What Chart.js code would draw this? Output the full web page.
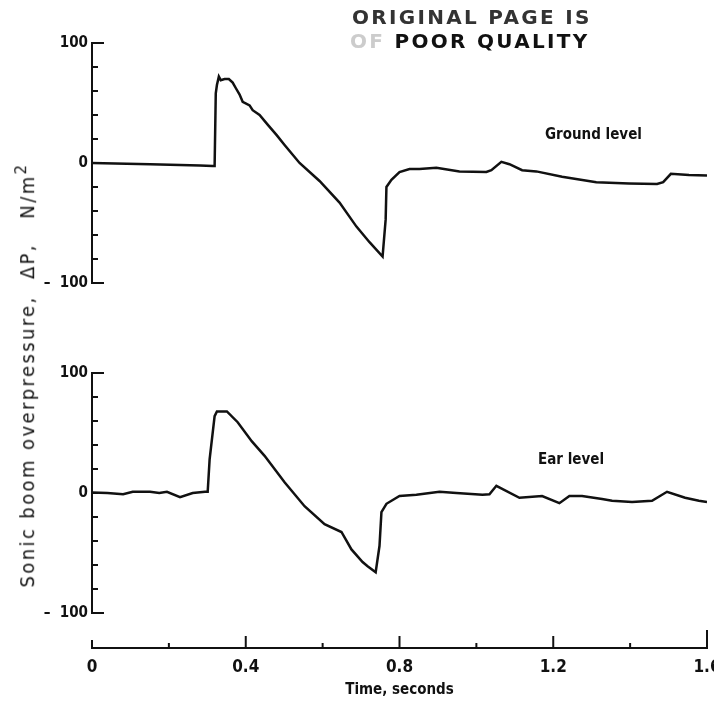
<!DOCTYPE html>
<html lang="en">
<head>
  <meta charset="UTF-8">
  <title>Sonic boom overpressure</title>
  <script src="https://cdn.jsdelivr.net/npm/chart.js"></script>
  <style>
    body {
      margin: 0;
      background: #fff;
    }

    .wrap {
      position: relative;
      width: 714px;
      height: 708px;
    }

    .note {
      position: absolute;
      font-family: 'DejaVu Sans Condensed', 'Liberation Sans Narrow', 'DejaVu Sans', sans-serif;
      font-weight: bold;
      font-size: 15px;
      color: #111;
      white-space: nowrap;
    }

    .stamp {
      position: absolute;
      font-family: 'DejaVu Sans', sans-serif;
      font-weight: bold;
      font-size: 20px;
      letter-spacing: 2.3px;
      color: #111;
      white-space: nowrap;
    }

    /* rotated y title, centred on the two panels */
    .ytitle {
      position: absolute;
      left: 25px;
      top: 375px;
      transform: translate(-50%, -50%) rotate(-90deg);
      font-family: 'DejaVu Sans Condensed', 'Liberation Sans Narrow', 'DejaVu Sans', sans-serif;
      font-size: 20px;
      letter-spacing: 2.4px;
      color: #111;
      white-space: pre;
    }
  </style>
</head>
<body>

  <div class="wrap">
    <canvas id="chart" width="714" height="708"></canvas>
    <div class="stamp" style="left:352px; top:5px; color:#333;">ORIGINAL PAGE IS</div>
    <div class="stamp" style="left:350px; top:29px;"><span style="color:#ccc;">OF</span> POOR QUALITY</div>
    <div class="note" style="left:545px; top:125px;">Ground level</div>
    <div class="note" style="left:538px; top:450px;">Ear level</div>
    <div class="ytitle">Sonic boom overpressure,  &Delta;P,   N/m<sup>2</sup></div>
  </div>

  <script>
    // ground level trace (time in s, overpressure in N/m^2)
    const groundTime = [0, 0.151, 0.281, 0.314, 0.319, 0.322, 0.325, 0.330, 0.335, 0.345, 0.356, 0.366, 0.374,
      0.384, 0.392, 0.410, 0.418, 0.436, 0.457, 0.481, 0.501, 0.540, 0.592, 0.644, 0.688, 0.722, 0.756,
      0.764, 0.766, 0.779, 0.800, 0.826, 0.852, 0.896, 0.956, 1.026, 1.039, 1.065, 1.086, 1.119, 1.156,
      1.223, 1.312, 1.397, 1.470, 1.486, 1.506, 1.553, 1.600];
    const groundDP = [0, -1, -2, -2.5, -2.5, 58, 65, 72, 69, 70, 70, 67, 62.5,
      57, 51, 48, 44, 40, 32, 23, 15, 0, -15, -33, -53, -66, -78,
      -47, -20, -14, -7.5, -5, -5, -4, -7, -7.5, -6, 1, -1, -6, -7,
      -11.5, -16, -17, -17.5, -16, -9, -10, -10.5];

    // ear level trace
    const earTime = [0, 0.040, 0.081, 0.106, 0.151, 0.175, 0.195, 0.229, 0.262, 0.294, 0.301, 0.306, 0.319,
      0.325, 0.351, 0.379, 0.416, 0.449, 0.501, 0.553, 0.605, 0.649, 0.675, 0.704, 0.717, 0.738, 0.748,
      0.753, 0.766, 0.800, 0.844, 0.904, 0.948, 1.016, 1.034, 1.052, 1.112, 1.171, 1.216, 1.242, 1.275,
      1.327, 1.353, 1.405, 1.457, 1.496, 1.543, 1.579, 1.600];
    const earDP = [0.5, 0, -1, 1, 1, 0, 1, -3.5, 0, 1, 1, 28, 64,
      68, 68, 59, 43, 31, 9, -11, -26, -32.5, -47, -57.5, -61, -66, -44,
      -16, -9, -2.5, -1.5, 1, 0, -1.5, -1, 6, -4, -2.5, -8.5, -2.5, -2.5,
      -5, -6.5, -7.5, -6.5, 1, -4, -6.5, -7.5];

    // labelled ticks
    const timeTicks = [0, 0.4, 0.8, 1.2, 1.6];
    const timeLabels = ['0', '0.4', '0.8', '1.2', '1.6'];
    const dpTicks = [-100, 0, 100];
    const dpLabels = ['\u2013  100', '0', '100'];

    const condensed = "'DejaVu Sans Condensed', 'Liberation Sans Narrow', 'DejaVu Sans', sans-serif";
    const ink = '#111';

    function toPoints(xs, ys) {
      return xs.map((x, i) => ({ x: x, y: ys[i] }));
    }

    function dpLabel(v) {
      const i = dpTicks.indexOf(v);
      return i >= 0 ? dpLabels[i] : '';
    }

    function timeLabel(v) {
      const i = timeTicks.findIndex(m => Math.abs(m - v) < 1e-6);
      return i >= 0 ? timeLabels[i] : '';
    }

    // tick marks drawn inward from the axis lines, like the original plot
    const inwardTicks = {
      id: 'inwardTicks',
      afterDatasetsDraw(chart) {
        const ctx = chart.ctx;
        ctx.save();
        ctx.strokeStyle = ink;
        ctx.lineWidth = 2;

        ['yTop', 'yBot'].forEach(id => {
          const s = chart.scales[id];
          s.ticks.forEach(t => {
            const py = s.getPixelForValue(t.value);
            const len = Math.abs(t.value) === 100 ? 12 : 6;
            ctx.beginPath();
            ctx.moveTo(s.right, py);
            ctx.lineTo(s.right + len, py);
            ctx.stroke();
          });
        });

        const sx = chart.scales.x;
        sx.ticks.forEach(t => {
          const px = sx.getPixelForValue(t.value);
          let len = timeLabel(t.value) ? 12 : 5;
          if (t.value === 0) len = 8;
          if (Math.abs(t.value - 1.6) < 1e-6) len = 18;
          ctx.beginPath();
          ctx.moveTo(px, sx.top);
          ctx.lineTo(px, sx.top - len);
          ctx.stroke();
        });

        ctx.restore();
      }
    };

    function panelAxis(weight) {
      return {
        type: 'linear',
        position: 'left',
        stack: 'panels',
        stackWeight: 240,
        weight: weight,
        min: -100,
        max: 100,
        grid: { display: false, drawTicks: false },
        border: { display: true, color: ink, width: 2 },
        ticks: {
          stepSize: 20,
          autoSkip: false,
          padding: 4,
          color: ink,
          font: { family: condensed, size: 15, weight: 'bold' },
          callback: dpLabel
        },
        afterFit(scale) { scale.width = 92; }
      };
    }

    function gapAxis(height, weight) {
      return {
        type: 'linear',
        position: 'left',
        stack: 'panels',
        stackWeight: height,
        weight: weight,
        display: false,
        min: 0,
        max: 1
      };
    }

    const ctx = document.getElementById('chart').getContext('2d');

    new Chart(ctx, {
      type: 'line',
      data: {
        datasets: [{
          label: 'Ground level',
          data: toPoints(groundTime, groundDP),
          xAxisID: 'x',
          yAxisID: 'yTop',
          borderColor: ink,
          borderWidth: 2.5,
          pointRadius: 0,
          tension: 0
        }, {
          label: 'Ear level',
          data: toPoints(earTime, earDP),
          xAxisID: 'x',
          yAxisID: 'yBot',
          borderColor: ink,
          borderWidth: 2.5,
          pointRadius: 0,
          tension: 0
        }]
      },
      options: {
        responsive: false,
        animation: false,
        devicePixelRatio: 1,
        layout: { padding: { top: 43, right: 7, left: 0, bottom: 0 } },
        plugins: {
          legend: { display: false },
          tooltip: { enabled: false }
        },
        scales: {
          x: {
            type: 'linear',
            position: 'bottom',
            min: 0,
            max: 1.6,
            grid: { display: false, drawTicks: false },
            border: { display: true, color: ink, width: 2 },
            ticks: {
              stepSize: 0.2,
              autoSkip: false,
              maxRotation: 0,
              padding: 9,
              color: ink,
              font: { family: condensed, size: 17, weight: 'bold' },
              callback: timeLabel
            },
            title: {
              display: true,
              text: 'Time, seconds',
              color: ink,
              font: { family: condensed, size: 15, weight: 'bold' },
              padding: { top: 0, bottom: 9 }
            },
            afterFit(scale) {
              scale.height = 60;
              scale.paddingLeft = 0;
              scale.paddingRight = 0;
            }
          },
          // stacked from top to bottom by weight: top panel, gap, bottom panel, gap
          yTop: panelAxis(4),
          gapA: gapAxis(90, 3),
          yBot: panelAxis(2),
          gapB: gapAxis(35, 1)
        }
      },
      plugins: [inwardTicks]
    });
  </script>

</body>
</html>
